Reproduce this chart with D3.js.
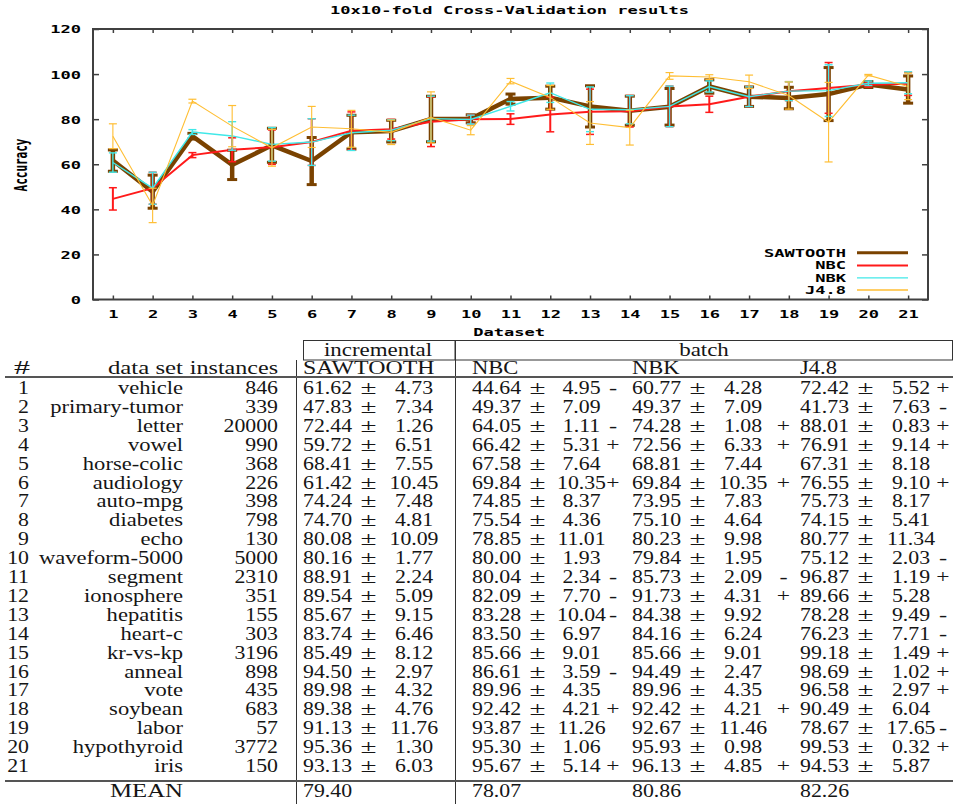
<!DOCTYPE html>
<html>
<head>
<meta charset="utf-8">
<script src="https://cdn.jsdelivr.net/npm/d3@7"></script>
<style>
  body { margin: 0; background: #fff; }
  .mono { font-family: "DejaVu Sans Mono", monospace; font-weight: bold; font-size: 11px; fill: #000; }
  .tab { font-family: "Liberation Serif", "Times New Roman", serif; font-size: 18.8px; fill: #151515; }
</style>
</head>
<body>
<svg id="chart" width="955" height="804"></svg>
<script>
// ---- data ----
const datasetIds = [1, 2, 3, 4, 5, 6, 7, 8, 9, 10, 11, 12, 13, 14, 15, 16, 17, 18, 19, 20, 21];
const datasetNames = ["vehicle", "primary-tumor", "letter", "vowel", "horse-colic", "audiology", "auto-mpg",
  "diabetes", "echo", "waveform-5000", "segment", "ionosphere", "hepatitis", "heart-c", "kr-vs-kp",
  "anneal", "vote", "soybean", "labor", "hypothyroid", "iris"];
const instances = [846, 339, 20000, 990, 368, 226, 398, 798, 130, 5000, 2310, 351, 155, 303, 3196, 898, 435, 683, 57, 3772, 150];

const sawtoothMean = [61.62, 47.83, 72.44, 59.72, 68.41, 61.42, 74.24, 74.70, 80.08, 80.16, 88.91, 89.54, 85.67, 83.74, 85.49, 94.50, 89.98, 89.38, 91.13, 95.36, 93.13];
const sawtoothStd  = [4.73, 7.34, 1.26, 6.51, 7.55, 10.45, 7.48, 4.81, 10.09, 1.77, 2.24, 5.09, 9.15, 6.46, 8.12, 2.97, 4.32, 4.76, 11.76, 1.30, 6.03];

const nbcMean = [44.64, 49.37, 64.05, 66.42, 67.58, 69.84, 74.85, 75.54, 78.85, 80.00, 80.04, 82.09, 83.28, 83.50, 85.66, 86.61, 89.96, 92.42, 93.87, 95.30, 95.67];
const nbcStd  = [4.95, 7.09, 1.11, 5.31, 7.64, 10.35, 8.37, 4.36, 11.01, 1.93, 2.34, 7.70, 10.04, 6.97, 9.01, 3.59, 4.35, 4.21, 11.26, 1.06, 5.14];
const nbcSig  = ["-", "", "-", "+", "", "+", "", "", "", "", "-", "-", "-", "", "", "-", "", "+", "", "", "+"];

const nbkMean = [60.77, 49.37, 74.28, 72.56, 68.81, 69.84, 73.95, 75.10, 80.23, 79.84, 85.73, 91.73, 84.38, 84.16, 85.66, 94.49, 89.96, 92.42, 92.67, 95.93, 96.13];
const nbkStd  = [4.28, 7.09, 1.08, 6.33, 7.44, 10.35, 7.83, 4.64, 9.98, 1.95, 2.09, 4.31, 9.92, 6.24, 9.01, 2.47, 4.35, 4.21, 11.46, 0.98, 4.85];
const nbkSig  = ["", "", "+", "+", "", "+", "", "", "", "", "-", "+", "", "", "", "", "", "+", "", "", "+"];

const j48Mean = [72.42, 41.73, 88.01, 76.91, 67.31, 76.55, 75.73, 74.15, 80.77, 75.12, 96.87, 89.66, 78.28, 76.23, 99.18, 98.69, 96.58, 90.49, 78.67, 99.53, 94.53];
const j48Std  = [5.52, 7.63, 0.83, 9.14, 8.18, 9.10, 8.17, 5.41, 11.34, 2.03, 1.19, 5.28, 9.49, 7.71, 1.49, 1.02, 2.97, 6.04, 17.65, 0.32, 5.87];
const j48Sig  = ["+", "-", "+", "+", "", "+", "", "", "", "-", "+", "", "-", "-", "+", "+", "+", "", "-", "+", ""];

const seriesNames = ["SAWTOOTH", "NBC", "NBK", "J4.8"];
const meanAccuracy = ["79.40", "78.07", "80.86", "82.26"];
const yTickValues = [0, 20, 40, 60, 80, 100, 120];

const titleText = "10x10-fold Cross-Validation results";
const xTitle = "Dataset";
const yTitle = "Accuracy";

// ---- plot ----
const svg = d3.select("#chart");
const plot = { left: 93, right: 928, top: 29, bottom: 299.5 };
const x = d3.scaleLinear().domain([0.5, 21.5]).range([plot.left, plot.right]);
const y = d3.scaleLinear().domain([0, 120]).range([plot.bottom, plot.top]);
const SX = 1.55; // horizontal stretch of the plot lettering

const series = [
  { name: seriesNames[0], mean: sawtoothMean, std: sawtoothStd, color: "#7a4200", width: 4.5, cap: 5, capW: 3 },
  { name: seriesNames[1], mean: nbcMean, std: nbcStd, color: "#ff1a1a", width: 2, cap: 4, capW: 1.5 },
  { name: seriesNames[2], mean: nbkMean, std: nbkStd, color: "#40e8e8", width: 1.4, cap: 4, capW: 1.4 },
  { name: seriesNames[3], mean: j48Mean, std: j48Std, color: "#ffbe33", width: 1.1, cap: 4, capW: 1.2 }
];

function monoText(g, px, py, s, anchor) {
  return g.append("text").attr("class", "mono")
    .attr("transform", `translate(${px},${py}) scale(${SX},1)`)
    .attr("text-anchor", anchor).attr("dy", "0.36em").text(s);
}

// axes: ticks point inward on all four sides
const axisColor = "#404040";
const gB = svg.append("g").attr("transform", `translate(0,${plot.bottom})`)
  .call(d3.axisBottom(x).tickValues(datasetIds).tickSizeInner(-4).tickSizeOuter(0).tickFormat(d3.format("d")));
const gT = svg.append("g").attr("transform", `translate(0,${plot.top})`)
  .call(d3.axisTop(x).tickValues(datasetIds).tickSizeInner(-4).tickSizeOuter(0).tickFormat(""));
const gL = svg.append("g").attr("transform", `translate(${plot.left},0)`)
  .call(d3.axisLeft(y).tickValues(yTickValues).tickSizeInner(-6).tickSizeOuter(0).tickFormat(d3.format("d")));
const gR = svg.append("g").attr("transform", `translate(${plot.right},0)`)
  .call(d3.axisRight(y).tickValues(yTickValues).tickSizeInner(-6).tickSizeOuter(0).tickFormat(""));
[gB, gT, gL, gR].forEach(g => {
  g.select(".domain").remove();
  g.selectAll(".tick line").attr("stroke", axisColor).attr("stroke-width", 1.5);
});
gB.selectAll(".tick text").attr("class", "mono").attr("y", 0).attr("dy", "0.36em")
  .attr("transform", `translate(0,15) scale(${SX},1)`);
gL.selectAll(".tick text").attr("class", "mono").attr("x", 0).attr("dy", "0.36em")
  .attr("text-anchor", "end").attr("transform", `translate(-12,0) scale(${SX},1)`);

svg.append("rect").attr("x", plot.left).attr("y", plot.top)
  .attr("width", plot.right - plot.left).attr("height", plot.bottom - plot.top)
  .attr("fill", "none").attr("stroke", axisColor).attr("stroke-width", 2);

// series: line + error bars, first series at the bottom
const line = d3.line().x((d, i) => x(datasetIds[i])).y(d => y(d));
series.forEach(s => {
  const g = svg.append("g");
  g.append("path").attr("d", line(s.mean)).attr("fill", "none")
    .attr("stroke", s.color).attr("stroke-width", s.width).attr("stroke-linejoin", "miter");
  const bars = g.selectAll("g.bar").data(s.mean).join("g").attr("class", "bar");
  bars.append("line")
    .attr("x1", (d, i) => x(datasetIds[i])).attr("x2", (d, i) => x(datasetIds[i]))
    .attr("y1", (d, i) => y(d - s.std[i])).attr("y2", (d, i) => y(d + s.std[i]))
    .attr("stroke", s.color).attr("stroke-width", s.width);
  [-1, 1].forEach(sign => {
    bars.append("line")
      .attr("x1", (d, i) => x(datasetIds[i]) - s.cap).attr("x2", (d, i) => x(datasetIds[i]) + s.cap)
      .attr("y1", (d, i) => y(d + sign * s.std[i])).attr("y2", (d, i) => y(d + sign * s.std[i]))
      .attr("stroke", s.color).attr("stroke-width", s.capW);
  });
});

// titles
monoText(svg, 509.5, 10, titleText, "middle");
monoText(svg, 509, 332.5, xTitle, "middle");
svg.append("text").attr("class", "mono")
  .attr("transform", `translate(21,165) scale(${SX},1) rotate(-90)`)
  .attr("text-anchor", "middle").attr("dy", "0.36em").text(yTitle);

// legend
const legend = svg.append("g");
const legendRows = [252.7, 265.5, 277.8, 290];
series.forEach((s, i) => {
  monoText(legend, 846, legendRows[i], s.name, "end");
  legend.append("line").attr("x1", 857).attr("x2", 908)
    .attr("y1", legendRows[i]).attr("y2", legendRows[i])
    .attr("stroke", s.color).attr("stroke-width", i === 0 ? 3 : (i === 1 ? 2 : 1.3));
});

// ---- results table ----
const table = svg.append("g");
const TX = 1.16;
function tabText(px, py, s, anchor, sx) {
  return table.append("text").attr("class", "tab")
    .attr("transform", `translate(${px},${py}) scale(${sx || TX},1)`)
    .attr("text-anchor", anchor).text(s);
}
const ruleColor = "#555";
const fmt = d3.format(".2f");

// group boxes
table.append("rect").attr("x", 303.5).attr("y", 340.5).attr("width", 151.5).attr("height", 19.5)
  .attr("fill", "none").attr("stroke", "#333").attr("stroke-width", 1);
table.append("rect").attr("x", 455.5).attr("y", 340.5).attr("width", 497).attr("height", 19.5)
  .attr("fill", "none").attr("stroke", "#333").attr("stroke-width", 1);
tabText(378, 355.5, "incremental", "middle", 1.22);
tabText(704, 355.5, "batch", "middle", 1.22);

// column separators and rules
[296.5, 455.5].forEach(cx => table.append("line").attr("x1", cx).attr("x2", cx)
  .attr("y1", 360).attr("y2", 804).attr("stroke", "#333").attr("stroke-width", 1));
[377, 781].forEach(ry => table.append("line").attr("x1", 5).attr("x2", 953)
  .attr("y1", ry).attr("y2", ry).attr("stroke", ruleColor).attr("stroke-width", 2));

// header row
const headY = 374;
tabText(30, headY, "#", "end", 1.7);
tabText(183, headY, "data set", "end", 1.32);
tabText(278, headY, "instances", "end", 1.28);
const colMean = [303, 472, 632, 800];
const colPm = colMean.map(c => c + 65.5);
const colStd = [414, 581.5, 743, 911];
const colSig = [null, 613, 783.5, 943];
seriesNames.forEach((n, k) => tabText(colMean[k], headY, n, "start", k === 0 ? 1.27 : 1.2));

// body rows
const rowY = i => 394 + i * 18.9;
const means = [sawtoothMean, nbcMean, nbkMean, j48Mean];
const stds = [sawtoothStd, nbcStd, nbkStd, j48Std];
const sigs = [null, nbcSig, nbkSig, j48Sig];
datasetIds.forEach((id, i) => {
  const ry = rowY(i);
  tabText(29, ry, String(id), "end");
  tabText(183, ry, datasetNames[i], "end", 1.2);
  tabText(278, ry, String(instances[i]), "end");
  for (let k = 0; k < 4; k++) {
    tabText(colMean[k], ry, fmt(means[k][i]), "start");
    tabText(colPm[k], ry, "±", "middle", 1.55);
    tabText(colStd[k], ry, fmt(stds[k][i]), "middle");
    if (sigs[k] && sigs[k][i]) tabText(colSig[k], ry, sigs[k][i], "middle", sigs[k][i] === "-" ? 1.3 : 1.25);
  }
});

// mean row
const meanY = 797;
tabText(183, meanY, "MEAN", "end", 1.32);
meanAccuracy.forEach((m, k) => tabText(colMean[k], meanY, m, "start"));
</script>
</body>
</html>
